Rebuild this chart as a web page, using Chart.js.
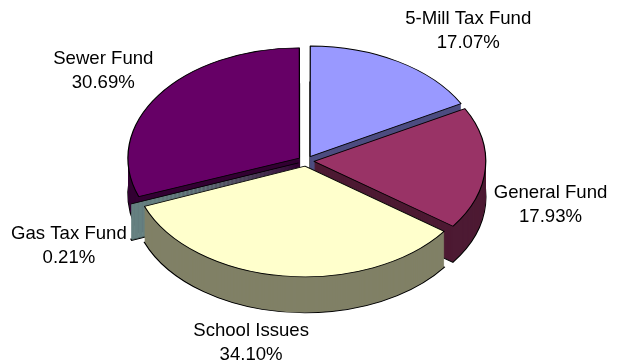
<!DOCTYPE html>
<html>
<head>
<meta charset="utf-8">
<script src="https://cdn.jsdelivr.net/npm/chart.js@4.4.1/dist/chart.umd.min.js"></script>
<style>
  html, body { margin: 0; background: #fff; }
  #wrap { width: 618px; height: 364px; }
</style>
</head>
<body>
<div id="wrap"><canvas id="pieChart"></canvas></div>
<script>
// data
const funds = ['5-Mill Tax Fund', 'General Fund', 'School Issues', 'Gas Tax Fund', 'Sewer Fund'];
const shares = [17.07, 17.93, 34.10, 0.21, 30.69];

const topColors = ['#9999ff', '#993366', '#ffffcc', '#ccffff', '#660066'];
const sideColors = ['#4d4d80', '#4d1a33', '#808066', '#668080', '#330033'];

// fake 3d: squash the pie vertically and stack darker copies underneath
const tilt = 0.643;
const depth = 36;

const squash = (ctx, cy, dy) => {
    ctx.translate(0, cy * (1 - tilt) + dy);
    ctx.scale(1, tilt);
};

// same geometry the arc element uses when it draws itself
const arcPath = (ctx, arc) => {
    const off = (arc.options.offset || 0) / 4;
    const half = (arc.startAngle + arc.endAngle) / 2;
    const fix = 1 - Math.sin(Math.min(Math.PI, arc.circumference || 0));
    const x = arc.x + Math.cos(half) * off;
    const y = arc.y + Math.sin(half) * off;
    ctx.beginPath();
    ctx.moveTo(x, y);
    ctx.arc(x, y, arc.outerRadius + off * fix, arc.startAngle, arc.endAngle);
    ctx.closePath();
};

const pie3d = {
    id: 'pie3d',
    beforeDatasetsDraw(chart) {
        const ctx = chart.ctx;
        const meta = chart.getDatasetMeta(0);
        const cy = meta.data[0].y;
        for (let d = depth; d >= 1; d--) {
            meta.data.forEach((arc, i) => {
                ctx.save();
                squash(ctx, cy, d);
                arcPath(ctx, arc);
                ctx.fillStyle = sideColors[i];
                ctx.fill();
                if (d === depth) {
                    ctx.lineWidth = 1.4;
                    ctx.strokeStyle = '#000';
                    ctx.stroke();
                }
                ctx.restore();
            });
        }
        ctx.save();
        squash(ctx, cy, 0);
    },
    afterDatasetsDraw(chart, args, opts) {
        const ctx = chart.ctx;
        ctx.restore();
        const meta = chart.getDatasetMeta(0);
        const values = chart.data.datasets[0].data;
        const total = values.reduce((a, b) => a + b, 0);
        ctx.save();
        ctx.font = '18.6px "Liberation Sans", Arial, sans-serif';
        ctx.fillStyle = '#000';
        ctx.textAlign = 'center';
        ctx.textBaseline = 'alphabetic';
        meta.data.forEach((arc, i) => {
            const [da, f] = opts.labelNudge[i];
            const a = (arc.startAngle + arc.endAngle) / 2 + da * Math.PI / 180;
            const x = arc.x + Math.cos(a) * arc.outerRadius * f;
            const y = arc.y + Math.sin(a) * arc.outerRadius * f * tilt;
            ctx.fillText(chart.data.labels[i], x, y - 12 + 6.7);
            ctx.fillText((values[i] / total * 100).toFixed(2) + '%', x, y + 12 + 6.7);
        });
        ctx.restore();
    }
};

new Chart(document.getElementById('pieChart'), {
    type: 'pie',
    data: {
        labels: funds,
        datasets: [{
            data: shares,
            backgroundColor: topColors,
            borderColor: '#000',
            borderWidth: 1.2,
            offset: 32,
            clip: false
        }]
    },
    options: {
        responsive: true,
        maintainAspectRatio: false,
        animation: false,
        events: [],
        radius: 171,
        layout: { padding: { left: 0, right: 6, top: 0, bottom: 42 } },
        plugins: {
            legend: { display: false },
            tooltip: { enabled: false },
            pie3d: {
                // [angle shift in degrees, distance as share of radius]
                labelNudge: [[7.6, 1.53], [11.2, 1.48], [3.7, 1.67], [-7.8, 1.58], [0.4, 1.45]]
            }
        }
    },
    plugins: [pie3d]
});
</script>
</body>
</html>
